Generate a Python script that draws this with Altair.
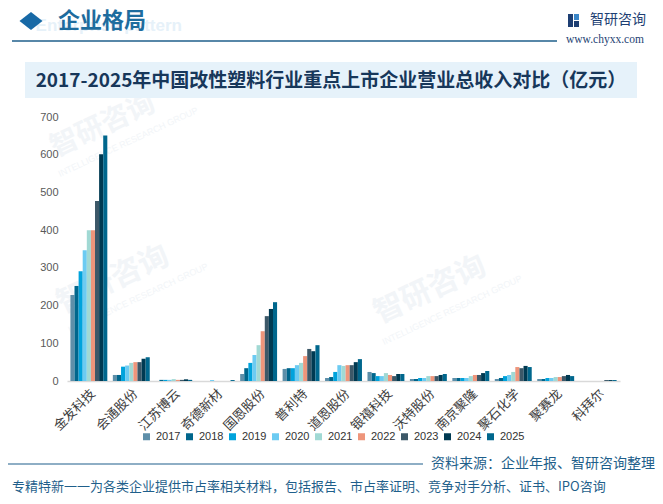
import altair as alt
import pandas as pd

companies = ["金发科技", "会通股份", "江苏博云", "奇德新材", "国恩股份", "普利特", "道恩股份",
             "银禧科技", "沃特股份", "南京聚隆", "聚石化学", "聚赛龙", "科拜尔"]
years = ["2017", "2018", "2019", "2020", "2021", "2022", "2023", "2024", "2025"]

v_jinfa   = [228, 252, 291, 347, 400, 400, 477, 601, 651]
v_huitong = [16, 16, 38, 41, 48, 50, 50, 59, 63]
v_boyun   = [0, 3, 3, 3, 5, 3, 3, 4.5, 3]
v_qide    = [0, 0, 0, 2.5, 0, 0, 0, 0, 2.5]
v_guoen   = [18.5, 34, 48, 69, 95, 132, 172, 191, 209]
v_pulite  = [32, 34, 34, 42, 48, 66, 85, 79, 95]
v_daoen   = [8, 10.5, 24, 42, 40, 42, 42, 50, 58]
v_yinxi   = [24, 21, 13, 13, 21, 16, 13, 18.5, 18.5]
v_wote    = [5.3, 5.3, 8, 8, 13, 13, 13, 16, 18.5]
v_julong  = [8, 8, 8, 8, 13, 16, 16, 21, 26.5]
v_jushi   = [5.3, 8, 13, 16, 24, 37, 34, 40, 37]
v_jusailong = [5.3, 5.3, 8, 8, 10.5, 10.5, 13, 16, 13]
v_kebaier = [0, 0, 0, 0, 0, 0, 2.5, 2.5, 2.5]

series = [v_jinfa, v_huitong, v_boyun, v_qide, v_guoen, v_pulite, v_daoen,
          v_yinxi, v_wote, v_julong, v_jushi, v_jusailong, v_kebaier]

colors = ["#5E8FA9", "#00668C", "#00A3DC", "#6CCBF2", "#A1D9D4",
          "#EE957B", "#3C5868", "#003A52", "#00678D"]

rows = []
for c, vals in zip(companies, series):
    for y, v in zip(years, vals):
        rows.append({"company": c, "year": y, "value": v})
df = pd.DataFrame(rows)

W, H = 553, 264
OX, OY = 67, 117  # page position of the plot origin

CJK = "Noto Sans CJK SC"


def txt(text, x, y, size, color, weight="normal", align="left", font=CJK,
        angle=0, baseline="middle"):
    return alt.Chart(pd.DataFrame({"t": [text]})).mark_text(
        align=align, baseline=baseline, fontSize=size, color=color,
        fontWeight=weight, font=font, angle=angle
    ).encode(x=alt.value(x - OX), y=alt.value(y - OY), text="t:N")


def rect(x1, y1, x2, y2, color):
    return alt.Chart(pd.DataFrame({"a": [0]})).mark_rect(color=color).encode(
        x=alt.value(x1 - OX), x2=alt.value(x2 - OX),
        y=alt.value(y1 - OY), y2=alt.value(y2 - OY))


def hline(x1, x2, y, color, width=1.5):
    return alt.Chart(pd.DataFrame({"a": [0]})).mark_rule(
        color=color, strokeWidth=width).encode(
        x=alt.value(x1 - OX), x2=alt.value(x2 - OX), y=alt.value(y - OY))


wm_color = "#F2F5F8"
watermarks = [
    txt("智研咨询", 103, 126, 28, wm_color, weight="bold", align="center", angle=335),
    txt("INTELLIGENCE RESEARCH GROUP", 128, 142, 9, wm_color, align="center", angle=335, font="Liberation Sans"),
    txt("智研咨询", 113, 280, 30, wm_color, weight="bold", align="center", angle=335),
    txt("INTELLIGENCE RESEARCH GROUP", 138, 298, 9, wm_color, align="center", angle=335, font="Liberation Sans"),
    txt("智研咨询", 430, 290, 30, wm_color, weight="bold", align="center", angle=335),
    txt("INTELLIGENCE RESEARCH GROUP", 452, 310, 9, wm_color, align="center", angle=335, font="Liberation Sans"),
]

bars = alt.Chart(df).mark_bar().encode(
    x=alt.X("company:N", sort=companies, title=None,
            scale=alt.Scale(paddingInner=0.13, paddingOuter=0.08),
            axis=alt.Axis(labelAngle=-45, labelFontSize=13, labelColor="#404040",
                          labelFont=CJK, ticks=False, domainColor="#D9D9D9",
                          domainWidth=1.5, labelPadding=6)),
    xOffset=alt.XOffset("year:N", sort=years),
    y=alt.Y("value:Q", title=None, scale=alt.Scale(domain=[0, 700]),
            axis=alt.Axis(values=list(range(0, 701, 100)), grid=False, domain=False,
                          ticks=False, labelColor="#595959", labelFontSize=11,
                          labelFont="Liberation Sans", labelPadding=9)),
    color=alt.Color("year:N", sort=years,
                    scale=alt.Scale(domain=years, range=colors),
                    legend=alt.Legend(orient="none", legendX=141 - OX, legendY=431 - OY,
                                      direction="horizontal", title=None,
                                      symbolType="square", symbolSize=49,
                                      labelFontSize=11, labelFont="Liberation Sans",
                                      labelColor="#333333", labelOffset=4,
                                      columnPadding=3, symbolStrokeWidth=0)),
)

header = [
    txt("Enterprise pattern", 182, 26, 17, "#E6F1F9", weight="bold", align="right",
        font="Liberation Sans"),
    alt.Chart(pd.DataFrame({"a": [0]})).mark_point(
        shape="M-1,0L0,-0.78L1,0L0,0.78Z", filled=True, size=530,
        color="#1769A6", opacity=1).encode(x=alt.value(31 - OX), y=alt.value(21 - OY)),
    txt("企业格局", 58, 21, 22, "#1D6C9E", weight="bold"),
    hline(12, 557, 41, "#1F5F8B", 1.5),
    rect(568, 14, 573, 27, "#1E3F73"),
    rect(574, 14, 579, 20, "#3A86C8"),
    rect(574, 21, 579, 27, "#1E3F73"),
    txt("智研咨询", 590, 20, 14, "#1E3F73"),
    txt("www.chyxx.com", 566, 40, 11.5, "#1E3F73", font="Liberation Serif"),
    rect(25, 62, 637, 98, "#E6F2FA"),
    txt("2017-2025年中国改性塑料行业重点上市企业营业总收入对比（亿元）", 331, 81, 19,
        "#17375A", weight="bold", align="center"),
]

footer = [
    hline(8, 423, 464, "#1F5F8B", 1.2),
    txt("资料来源：企业年报、智研咨询整理", 655, 464, 14, "#1F5F8B", align="right"),
    txt("专精特新一一为各类企业提供市占率相关材料，包括报告、市占率证明、竞争对手分析、证书、IPO咨询",
        12, 487, 13, "#1F5F8B"),
]

chart = alt.layer(*watermarks, *header, bars, *footer).properties(
    width=W, height=H,
    padding={"left": OX - 8, "top": OY - 8, "right": 35, "bottom": 114},
    autosize=alt.AutoSizeParams(type="none"),
    background="white",
).configure_view(stroke=None)

chart.save("out.html", embed_options={"renderer": "svg", "actions": False})
